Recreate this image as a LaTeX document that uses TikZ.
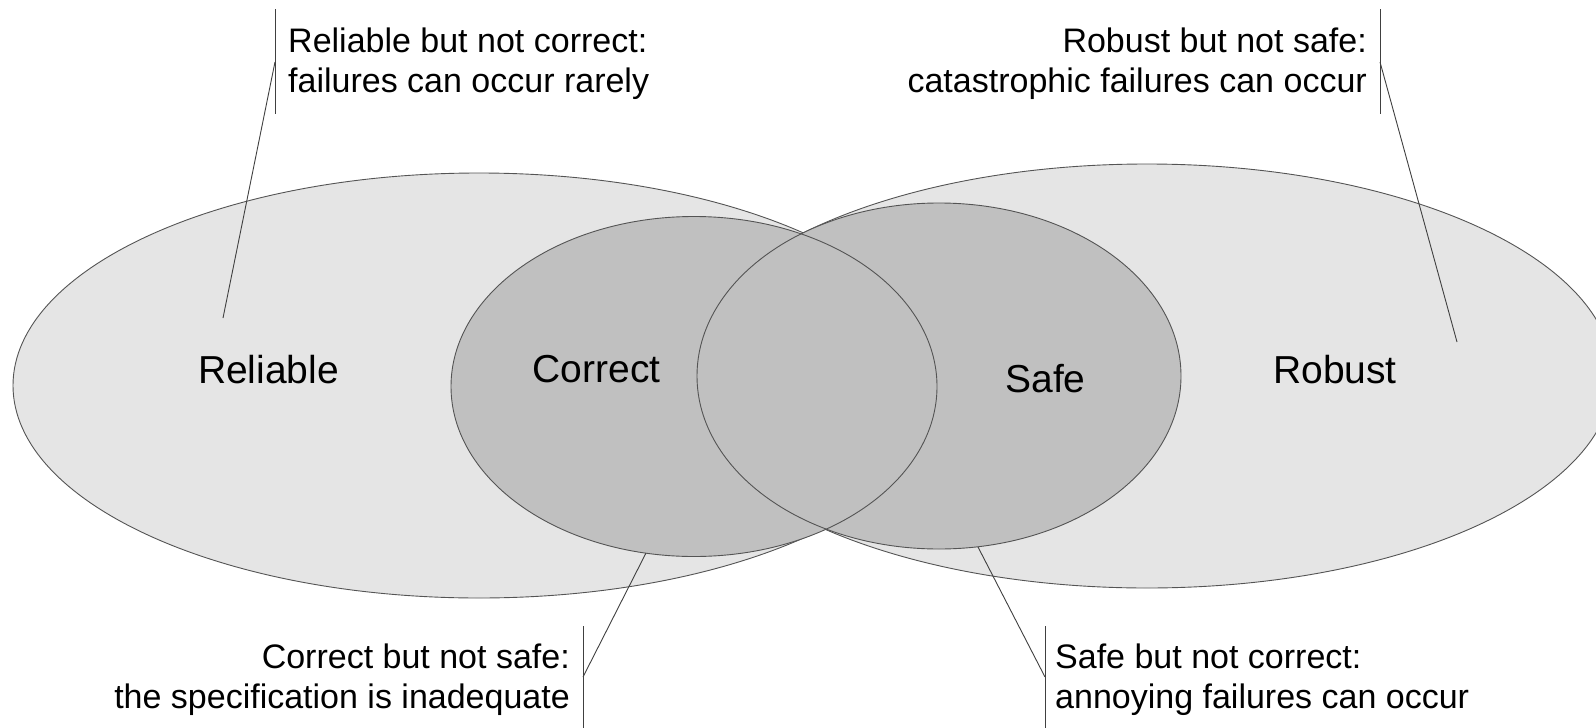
\documentclass[tikz,border=0pt]{standalone}
\usepackage{fontspec}
\setmainfont{Liberation Sans}
\definecolor{setlight}{gray}{0.898}
\definecolor{setdark}{gray}{0.753}
\definecolor{setedge}{gray}{0.33}
\tikzset{
  setline/.style={draw=setedge, line width=0.9pt},
  setname/.style={inner sep=0pt, anchor=base, font=\fontsize{39}{47}\selectfont},
  note/.style={inner sep=0pt, font=\fontsize{34}{40}\selectfont},
  leader/.style={draw=black!75, line width=0.9pt},
}
\begin{document}
\begin{tikzpicture}[x=1pt,y=-1pt]
\useasboundingbox (0,0) rectangle (1596,728);
\clip (0,0) rectangle (1596,728);
% centres of the four sets
\coordinate (relcore) at (479,385.5);
\coordinate (robcore) at (1147,376);
\coordinate (corcore) at (694,386.5);
\coordinate (safcore) at (939,376);
% outer sets
\filldraw[fill=setlight, setline] (relcore) ellipse [x radius=466, y radius=212.5];
\filldraw[fill=setlight, setline] (robcore) ellipse [x radius=466, y radius=212];
% inner sets, fill first so both rims stay visible
\fill[setdark] (corcore) ellipse [x radius=243, y radius=170];
\fill[setdark] (safcore) ellipse [x radius=242, y radius=173];
\draw[setline] (corcore) ellipse [x radius=243, y radius=170];
\draw[setline] (safcore) ellipse [x radius=242, y radius=173];
% set names
\node(reliable) [setname] at (268.5,383) {Reliable};
\node(correct) [setname] at (596.5,382) {Correct};
\node(safe) [setname] at (1045.5,392) {Safe};
\node(robust) [setname] at (1335,383) {Robust};
% notes (base = last line)
\node(relnote) [note, anchor=base west, align=left] at (288,92) {Reliable but not correct:\\failures can occur rarely};
\node(robnote) [note, anchor=base east, align=right] at (1367,92) {Robust but not safe:\\catastrophic failures can occur};
\node(cornote) [note, anchor=base east, align=right] at (570,708) {Correct but not safe:\\the specification is inadequate};
\node(safnote) [note, anchor=base west, align=left] at (1055,708) {Safe but not correct:\\annoying failures can occur};
% where the notes point
\coordinate (relbar) at (275,62);
\coordinate (robbar) at (1380,62);
\coordinate (corbar) at (583,677);
\coordinate (safbar) at (1045,677);
\coordinate (relpt) at (223,318);
\coordinate (robpt) at (1457,342);
\coordinate (corpt) at (646,553);
\coordinate (safpt) at (978,547);
\draw[leader] ([yshift=53pt]relbar) -- ([yshift=-52pt]relbar);
\draw[leader] ([yshift=53pt]robbar) -- ([yshift=-52pt]robbar);
\draw[leader] ([yshift=51pt]corbar) -- ([yshift=-53pt]corbar);
\draw[leader] ([yshift=51pt]safbar) -- ([yshift=-53pt]safbar);
\draw[leader] (relbar) -- (relpt);
\draw[leader] (robbar) -- (robpt);
\draw[leader] (corbar) -- (corpt);
\draw[leader] (safbar) -- (safpt);
\end{tikzpicture}
\end{document}
